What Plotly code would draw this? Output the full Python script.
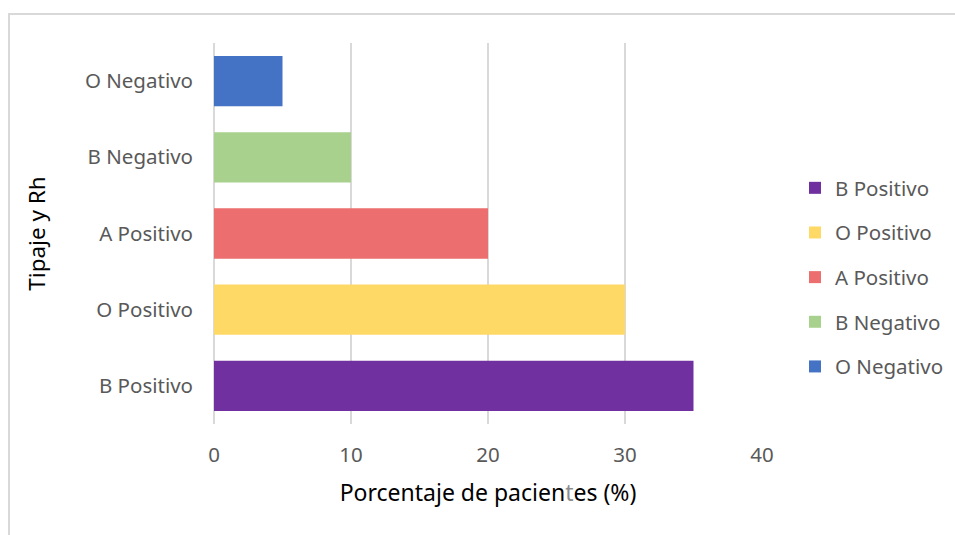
import plotly.graph_objects as go

# Blood type groups (bottom to top) and share of patients
categories = ["B Positivo", "O Positivo", "A Positivo", "B Negativo", "O Negativo"]
percentages = [35, 30, 20, 10, 5]
bar_colors = ["#7030A0", "#FFD966", "#ED6E6E", "#A9D18E", "#4472C4"]
x_ticks = [0, 10, 20, 30, 40]

W, H = 955, 535
L, R, T, B = 214, 193, 43, 111
pw, ph = W - L - R, H - T - B

font_family = "Noto Sans, Open Sans, sans-serif"
fig = go.Figure()
for cat, val, col in zip(categories, percentages, bar_colors):
    fig.add_trace(go.Bar(
        y=[cat], x=[val], name=cat, orientation="h",
        marker=dict(color=col, line=dict(width=0)),
        legendgroup=cat,
    ))

fig.update_layout(
    width=W, height=H,
    margin=dict(l=L, r=R, t=T, b=B, autoexpand=False),
    paper_bgcolor="white", plot_bgcolor="white",
    barmode="overlay", bargap=0.34,
    font=dict(family=font_family, size=20.5, color="#595959"),
    showlegend=True,
    legend=dict(
        x=(795 - L) / pw, y=(T - 168) / ph + 1, xanchor="left", yanchor="top",
        traceorder="grouped", tracegroupgap=15,
        font=dict(size=20.5, color="#595959"),
        itemwidth=30,
    ),
    xaxis=dict(
        range=[0, 40], tickvals=x_ticks, showgrid=True, gridcolor="#D9D9D9", gridwidth=1.5,
        zeroline=True, zerolinecolor="#D9D9D9", zerolinewidth=1.5,
        showline=False, ticks="", ticklabelstandoff=16,
        title=dict(text='Porcentaje de pacien<span style="color:#8C8C8C">t</span>es (%)',
                   font=dict(size=23, color="#000000"), standoff=18),
    ),
    yaxis=dict(
        categoryorder="array", categoryarray=categories,
        showgrid=False, zeroline=False, showline=False, ticks="", ticklabelstandoff=20,
        title=dict(text="Tipaje y Rh", font=dict(size=22.5, color="#000000"), standoff=33),
    ),
    shapes=[dict(
        type="rect", xref="paper", yref="paper", layer="below",
        x0=(9 - L) / pw, x1=(W + 60 - L) / pw,
        y0=(T + ph - (H + 60)) / ph, y1=1 + (T - 14) / ph,
        line=dict(color="#D9D9D9", width=2), fillcolor="rgba(0,0,0,0)",
    )],
)

fig.write_html("out.html")
